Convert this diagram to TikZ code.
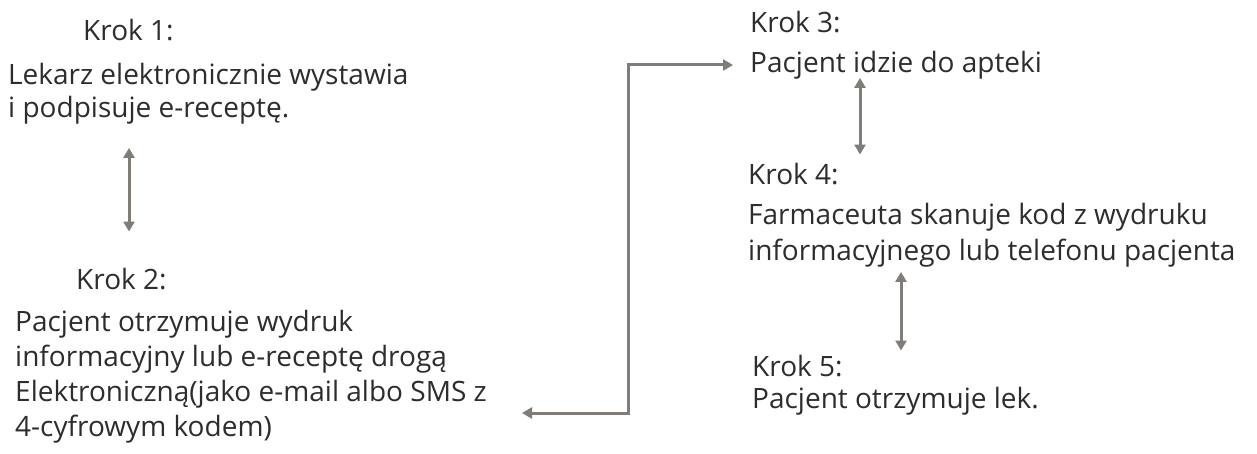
\documentclass[tikz,border=0pt]{standalone}
\usepackage{fontspec}
\setmainfont{Open Sans}
\usetikzlibrary{arrows.meta}
\definecolor{txtgray}{RGB}{45,45,45}
\definecolor{arrgray}{RGB}{128,124,120}

\begin{document}
\begin{tikzpicture}[x=1pt,y=-1pt,>={Triangle[width=11pt,length=10pt]},
 font=\fontsize{28}{35}\selectfont,
 lbl/.style={anchor=base west,inner sep=0pt,align=left,text=txtgray},
 conn/.style={draw=arrgray,line width=3pt}]
\useasboundingbox[fill=white] (0,0) rectangle (1257,454);
% left column (base = last line)
\node[lbl] (k1) at (83,41) {Krok 1:};
\node[lbl,font=\fontsize{28}{33}\selectfont] (t1) at (8,118) {Lekarz elektronicznie wystawia\\i podpisuje e-receptę.};
\node[lbl] (k2) at (76,289) {Krok 2:};
\node[lbl] (t2) at (15,436) {Pacjent otrzymuje wydruk\\informacyjny lub e-receptę drogą\\Elektroniczną(jako e-mail albo SMS z\\4-cyfrowym kodem)};
% right column
\node[lbl] (k3) at (750,33) {Krok 3:};
\node[lbl] (t3) at (750,73) {Pacjent idzie do apteki};
\node[lbl] (k4) at (748,185) {Krok 4:};
\node[lbl,font=\fontsize{28}{36}\selectfont] (t4) at (748,261) {Farmaceuta skanuje kod z wydruku\\informacyjnego lub telefonu pacjenta};
\node[lbl] (k5) at (752,376) {Krok 5:};
\node[lbl] (t5) at (752,408) {Pacjent otrzymuje lek.};
% arrows between steps
\draw[conn,<->,shorten <=23pt,shorten >=36pt] (t1.south -| 129,0) -- (k2.north -| 129,0);
\draw[conn,<->] ([xshift=35pt]t2.east |- 0,413) -| (628,65) -- ([xshift=-17pt]t3.west |- 0,65);
\draw[conn,<->,shorten <=-2pt,shorten >=9pt] (t3.south -| 860,0) -- (k4.north -| 860,0);
\draw[conn,<->,shorten <=4pt,shorten >=4pt] (t4.south -| 901,0) -- (k5.north -| 901,0);
\end{tikzpicture}
\end{document}
